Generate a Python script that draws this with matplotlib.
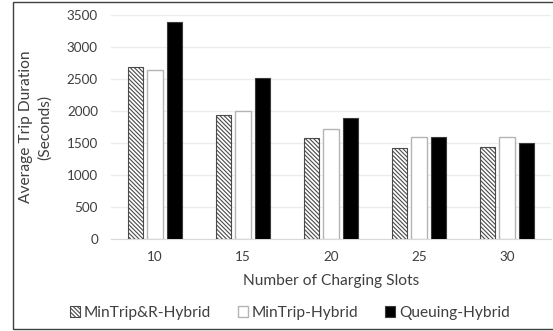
import numpy as np
import matplotlib.pyplot as plt
from matplotlib.patches import Rectangle

plt.rcParams['font.family'] = ['Lato', 'DejaVu Sans']
plt.rcParams['hatch.linewidth'] = 0.8

slots = ["10", "15", "20", "25", "30"]
series_names = ["MinTrip&R-Hybrid", "MinTrip-Hybrid", "Queuing-Hybrid"]
minTripR = [2690, 1940, 1575, 1415, 1435]
minTrip = [2635, 1995, 1720, 1600, 1600]
queuing = [3390, 2510, 1895, 1590, 1505]

txt = "#3f3f3f"

fig = plt.figure(figsize=(5.53, 3.31), dpi=100)
ax = fig.add_axes([0.2007, 0.278, 0.7957, 0.6767])

x = np.arange(len(slots))
w = 0.176
off = 0.2216

ax.bar(x - off, minTripR, w, color="white", edgecolor="#4a4a4a", hatch="\\" * 8,
       linewidth=0.8, label=series_names[0], zorder=3)
ax.bar(x, minTrip, w, color="white", edgecolor="#b4b4b4",
       linewidth=1.0, label=series_names[1], zorder=3)
ax.bar(x + off, queuing, w, color="black", edgecolor="#3a3a3a",
       linewidth=0.8, label=series_names[2], zorder=3)

ax.set_xlim(-0.5, len(slots) - 0.5)
ax.set_ylim(0, 3500)
ax.set_yticks(np.arange(0, 3501, 500))
ax.set_xticks(x)
ax.set_xticklabels(slots)
ax.yaxis.grid(True, color="#ececec", linewidth=1.0, zorder=0)
ax.set_axisbelow(True)
for s in ["top", "right", "left"]:
    ax.spines[s].set_visible(False)
ax.spines["bottom"].set_color("#d9d9d9")
ax.tick_params(axis="both", length=0, labelsize=9.7, colors=txt)
ax.tick_params(axis="x", pad=9)
ax.tick_params(axis="y", pad=9.4)

ax.set_xlabel("Number of Charging Slots", fontsize=11.2, color=txt)
ax.xaxis.set_label_coords(0.5, -0.158)
fig.text(0.064, 0.616, "Average Trip Duration\n(Seconds)", rotation=90,
         ha="center", va="center", fontsize=11.2, color=txt, linespacing=1.45)

leg = fig.legend(loc="center left", bbox_to_anchor=(62 / 553, 1 - 313 / 331), ncol=3,
                 frameon=False, fontsize=11.2, borderpad=0, handlelength=0.63,
                 handleheight=0.63, handletextpad=0.25, columnspacing=1.75)
for t in leg.get_texts():
    t.set_color(txt)

# outer chart border (left, top, bottom)
fig.patches.append(Rectangle((13 / 553, 2 / 331), 1.0, 327 / 331, transform=fig.transFigure,
                             fill=False, edgecolor="#404040", linewidth=1.0))

fig.savefig("out.png", dpi=100)
